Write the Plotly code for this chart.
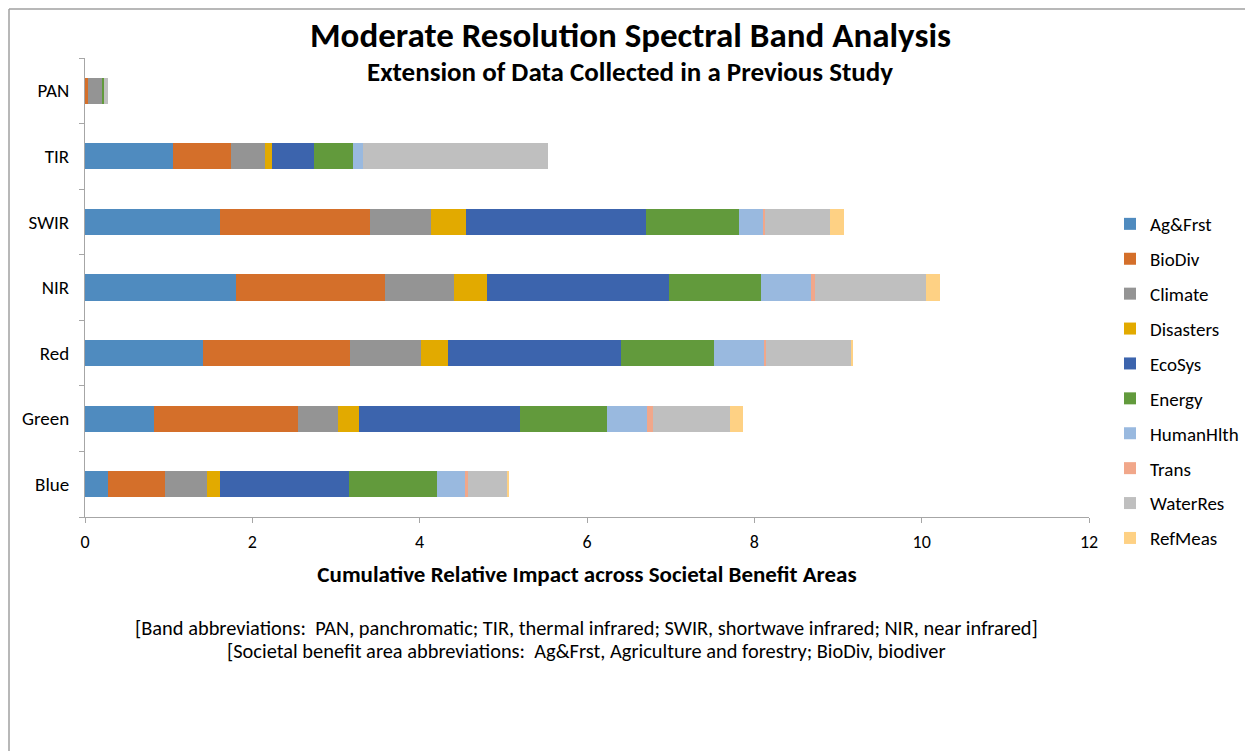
import plotly.graph_objects as go

bands = ["Blue", "Green", "Red", "NIR", "SWIR", "TIR", "PAN"]

ag_frst    = [0.27, 0.82, 1.41, 1.80, 1.61, 1.05, 0.00]
biodiv     = [0.69, 1.73, 1.76, 1.79, 1.80, 0.69, 0.03]
climate    = [0.50, 0.47, 0.85, 0.82, 0.72, 0.41, 0.17]
disasters  = [0.155, 0.26, 0.32, 0.40, 0.42, 0.09, 0.00]
ecosys     = [1.54, 1.92, 2.07, 2.17, 2.16, 0.50, 0.00]
energy     = [1.05, 1.04, 1.11, 1.10, 1.11, 0.46, 0.03]
humanhlth  = [0.34, 0.48, 0.59, 0.60, 0.28, 0.12, 0.00]
trans      = [0.03, 0.07, 0.03, 0.05, 0.03, 0.00, 0.00]
waterres   = [0.47, 0.92, 1.02, 1.32, 0.78, 2.21, 0.05]
refmeas    = [0.02, 0.16, 0.02, 0.17, 0.16, 0.00, 0.00]

series_names = ["Ag&Frst", "BioDiv", "Climate", "Disasters", "EcoSys",
                "Energy", "HumanHlth", "Trans", "WaterRes", "RefMeas"]
series_values = [ag_frst, biodiv, climate, disasters, ecosys,
                 energy, humanhlth, trans, waterres, refmeas]
colors = ["#4F8BBF", "#D46F2A", "#949494", "#E2AA00", "#3C64AD",
          "#629A3C", "#99B9DF", "#F1A78A", "#BFBFBF", "#FED184"]

x_ticks = [0, 2, 4, 6, 8, 10, 12]

FONT = "Carlito, Lato, 'Liberation Sans', sans-serif"

fig = go.Figure()
for name, vals, col in zip(series_names, series_values, colors):
    fig.add_trace(go.Bar(
        y=bands, x=vals, name=name, orientation="h",
        marker=dict(color=col, line=dict(width=0)),
        legendgroup=name,
    ))

# page has an 8px body margin; reference pixel coords are shifted by OFF
OFF = 8
L, R, T, B = 85 - OFF, 1089 - OFF, 58 - OFF, 517 - OFF
W, H = 1253, 751


def px_x(x):
    return (x - OFF - L) / (R - L)


def px_y(y):
    return (B - (y - OFF)) / (B - T)


fig.update_layout(
    width=W, height=H,
    barmode="stack",
    bargap=0.6,
    plot_bgcolor="white",
    paper_bgcolor="white",
    margin=dict(l=L, r=W - R, t=T, b=H - B, autoexpand=False),
    font=dict(family=FONT, size=19, color="#000000"),
    showlegend=True,
    legend=dict(
        x=px_x(1110), y=px_y(205), xanchor="left", yanchor="top",
        traceorder="grouped", tracegroupgap=7.2,
        font=dict(family=FONT, size=19, color="#000000"),
        bgcolor="rgba(0,0,0,0)",
    ),
    xaxis=dict(
        range=[0, 12], tickvals=x_ticks, ticktext=[str(v) for v in x_ticks],
        showgrid=False, zeroline=False,
        showline=True, linecolor="#A6A6A6", linewidth=1,
        ticks="outside", ticklen=5, tickcolor="#A6A6A6",
        tickfont=dict(family=FONT, size=18),
        ticklabelstandoff=3,
        title=dict(text="<b>Cumulative Relative Impact across Societal Benefit Areas</b>",
                   font=dict(family=FONT, size=23), standoff=14),
    ),
    yaxis=dict(
        categoryorder="array", categoryarray=bands,
        showgrid=False, zeroline=False,
        showline=True, linecolor="#A6A6A6", linewidth=1,
        ticks="outside", ticklen=5, tickcolor="#A6A6A6",
        tickson="boundaries",
        tickfont=dict(family=FONT, size=19),
        ticklabelstandoff=11,
    ),
    annotations=[
        dict(text="<b>Moderate Resolution Spectral Band Analysis</b>",
             xref="paper", yref="paper", x=px_x(630), y=px_y(35),
             xanchor="center", yanchor="middle", showarrow=False,
             font=dict(family=FONT, size=35)),
        dict(text="<b>Extension of Data Collected in a Previous Study</b>",
             xref="paper", yref="paper", x=px_x(630), y=px_y(72),
             xanchor="center", yanchor="middle", showarrow=False,
             font=dict(family=FONT, size=27)),
        dict(text="[Band abbreviations:  PAN, panchromatic; TIR, thermal infrared; SWIR, shortwave infrared; NIR, near infrared]",
             xref="paper", yref="paper", x=px_x(586), y=px_y(628),
             xanchor="center", yanchor="middle", showarrow=False,
             font=dict(family=FONT, size=20.4)),
        dict(text="[Societal benefit area abbreviations:  Ag&Frst, Agriculture and forestry; BioDiv, biodiver",
             xref="paper", yref="paper", x=px_x(586), y=px_y(651),
             xanchor="center", yanchor="middle", showarrow=False,
             font=dict(family=FONT, size=20.4)),
    ],
    shapes=[
        dict(type="line", xref="paper", yref="paper",
             x0=px_x(9), x1=px_x(1300), y0=px_y(9), y1=px_y(9),
             line=dict(color="#A0A0A0", width=1.5)),
        dict(type="line", xref="paper", yref="paper",
             x0=px_x(9), x1=px_x(9), y0=px_y(9), y1=px_y(800),
             line=dict(color="#A0A0A0", width=1.5)),
    ],
)

fig.write_html("out.html")
